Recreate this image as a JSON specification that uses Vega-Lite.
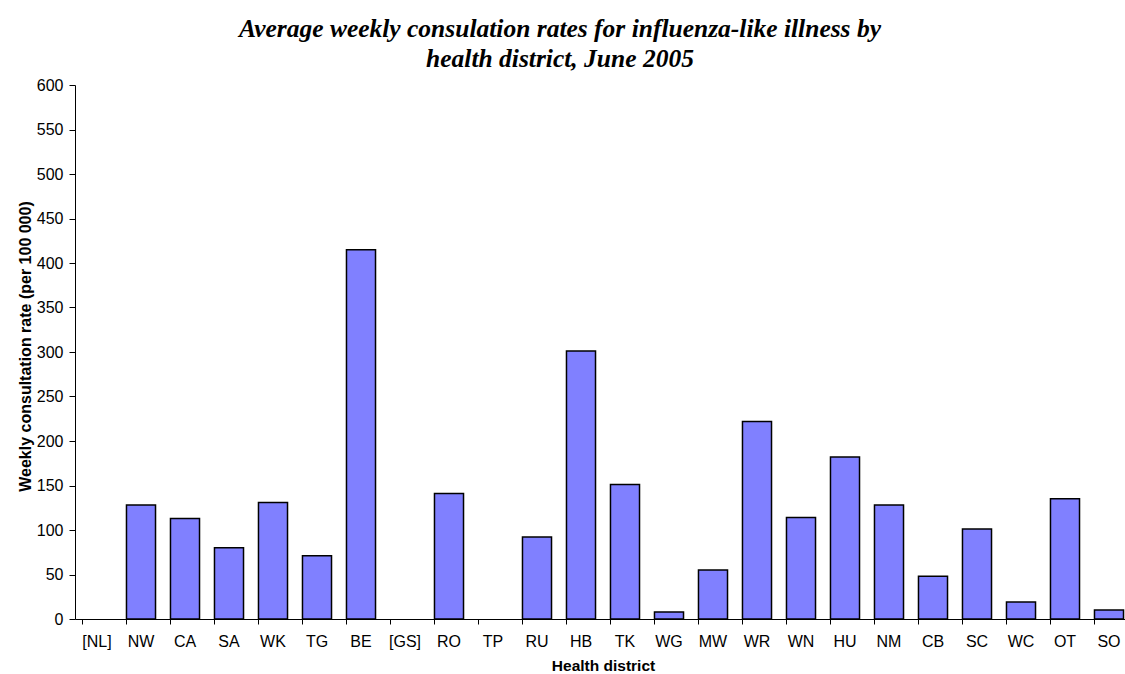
{
  "$schema": "https://vega.github.io/schema/vega-lite/v6.json",
  "width": 1056,
  "height": 534,
  "autosize": {"type": "none"},
  "padding": {"left": 75, "top": 85, "right": 0, "bottom": 55},
  "background": "white",
  "title": {
    "text": ["Average weekly consulation rates for influenza-like illness by", "health district, June 2005"],
    "font": "Liberation Serif",
    "fontSize": 25.5,
    "fontWeight": "bold",
    "fontStyle": "italic",
    "color": "black",
    "anchor": "middle",
    "frame": "group",
    "dx": -43,
    "offset": 5,
    "lineHeight": 30
  },
  "data": {
    "values": [
      {"district": "[NL]", "rate": null},
      {"district": "NW", "rate": 128},
      {"district": "CA", "rate": 113},
      {"district": "SA", "rate": 80},
      {"district": "WK", "rate": 131},
      {"district": "TG", "rate": 71},
      {"district": "BE", "rate": 415},
      {"district": "[GS]", "rate": null},
      {"district": "RO", "rate": 141},
      {"district": "TP", "rate": null},
      {"district": "RU", "rate": 92},
      {"district": "HB", "rate": 301},
      {"district": "TK", "rate": 151},
      {"district": "WG", "rate": 8},
      {"district": "MW", "rate": 55},
      {"district": "WR", "rate": 222},
      {"district": "WN", "rate": 114},
      {"district": "HU", "rate": 182},
      {"district": "NM", "rate": 128},
      {"district": "CB", "rate": 48},
      {"district": "SC", "rate": 101},
      {"district": "WC", "rate": 19},
      {"district": "OT", "rate": 135},
      {"district": "SO", "rate": 10}
    ]
  },
  "mark": {"type": "bar", "fill": "#8080FF", "stroke": "black", "strokeWidth": 1.5},
  "encoding": {
    "x": {
      "field": "district",
      "type": "nominal",
      "sort": null,
      "scale": {
        "domain": ["[NL]", "NW", "CA", "SA", "WK", "TG", "BE", "[GS]", "RO", "TP", "RU", "HB", "TK", "WG", "MW", "WR", "WN", "HU", "NM", "CB", "SC", "WC", "OT", "SO"],
        "paddingInner": 0.34,
        "paddingOuter": 0.17
      },
      "axis": {
        "title": "Health district",
        "titleFont": "Liberation Sans",
        "titleFontSize": 15.5,
        "titleFontWeight": "bold",
        "titleColor": "black",
        "titlePadding": 9,
        "labelAngle": 0,
        "labelFont": "Liberation Sans",
        "labelFontSize": 16,
        "labelColor": "black",
        "labelPadding": 9,
        "bandPosition": 0,
        "tickColor": "black",
        "tickSize": 5,
        "domainColor": "black",
        "grid": false
      }
    },
    "y": {
      "field": "rate",
      "type": "quantitative",
      "scale": {"domain": [0, 600], "nice": false},
      "axis": {
        "title": "Weekly consultation rate (per 100 000)",
        "titleFont": "Liberation Sans",
        "titleFontSize": 16,
        "titleFontWeight": "bold",
        "titleColor": "black",
        "titlePadding": 3,
        "titleY": 261,
        "values": [0, 50, 100, 150, 200, 250, 300, 350, 400, 450, 500, 550, 600],
        "labelFont": "Liberation Sans",
        "labelFontSize": 16,
        "labelColor": "black",
        "labelPadding": 6,
        "tickColor": "black",
        "tickSize": 6,
        "domainColor": "black",
        "grid": false
      }
    }
  },
  "config": {"view": {"stroke": null}}
}
